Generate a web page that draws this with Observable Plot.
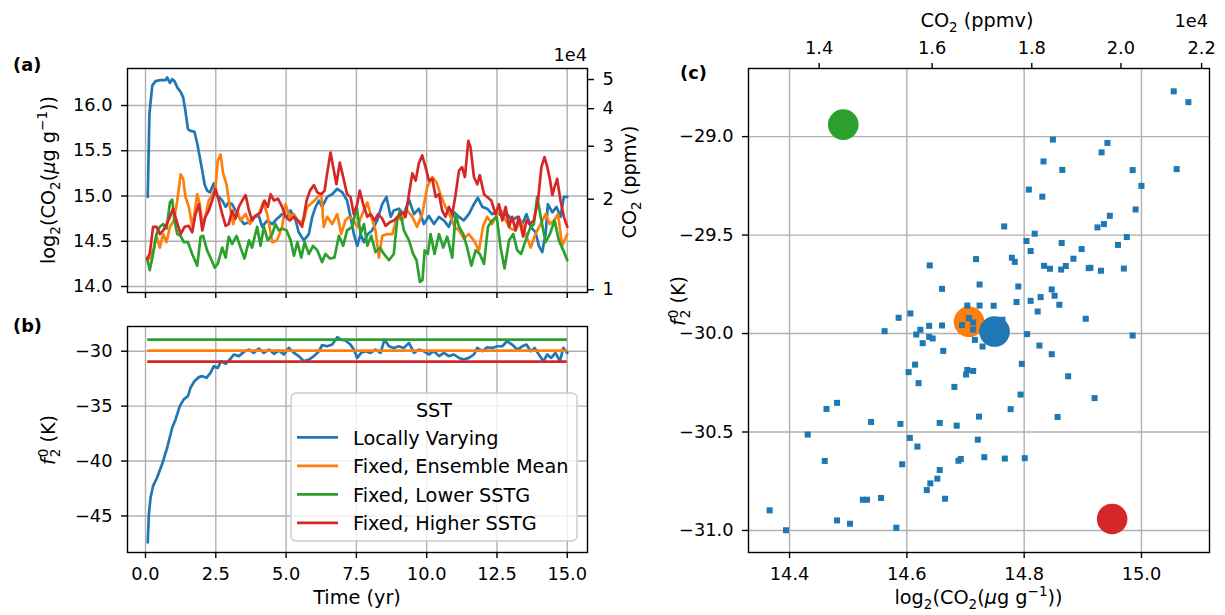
<!DOCTYPE html>
<html><head><meta charset="utf-8">
<script src="https://cdn.jsdelivr.net/npm/d3@7"></script>
<script src="https://cdn.jsdelivr.net/npm/@observablehq/plot@0.6"></script>
<style>
body{margin:0;background:#fff;}
#fig{position:relative;width:1225px;height:615px;overflow:hidden;background:#fff;}
</style></head><body><div id="fig"></div>
<script>
// ---------------- DATA ----------------
const seriesNames = ["Locally Varying", "Fixed, Ensemble Mean", "Fixed, Lower SSTG", "Fixed, Higher SSTG"];
const seriesColors = ["#1f77b4", "#ff7f0e", "#2ca02c", "#d62728"];
const timeTicks = [0, 2.5, 5, 7.5, 10, 12.5, 15];
const co2LogTicks = [14.0, 14.5, 15.0, 15.5, 16.0];
const ppmvTicksA = [1, 2, 3, 4, 5];            // x1e4 ppmv
const f2TicksB = [-45, -40, -35, -30];
const co2LogTicksC = [14.4, 14.6, 14.8, 15.0];
const ppmvTicksC = [1.4, 1.6, 1.8, 2.0, 2.2];  // x1e4 ppmv
const f2TicksC = [-31.0, -30.5, -30.0, -29.5, -29.0];
const log2Of1e4ppmv = 13.965;                  // log2(CO2 ug/g) equal to 1e4 ppmv

// panel (a): [time (yr), log2(CO2 ug/g)]
const co2LocallyVarying = [[0.08,14.99],[0.14,15.91],[0.24,16.22],[0.36,16.27],[0.53,16.28],[0.71,16.28],[0.77,16.31],[0.87,16.25],[0.95,16.29],[1.03,16.27],[1.13,16.20],[1.25,16.15],[1.34,16.09],[1.42,15.94],[1.51,15.74],[1.60,15.72],[1.74,15.71],[1.84,15.58],[1.93,15.43],[2.02,15.28],[2.10,15.13],[2.19,15.06],[2.29,15.04],[2.37,15.10],[2.43,15.14],[2.53,15.01],[2.61,14.99],[2.73,14.95],[2.85,14.88],[2.96,14.93],[3.08,14.91],[3.20,14.84],[3.32,14.77],[3.50,14.69],[3.68,14.71],[3.85,14.77],[4.03,14.78],[4.15,14.66],[4.33,14.73],[4.51,14.69],[4.68,14.75],[4.86,14.80],[5.04,14.77],[5.16,14.84],[5.34,14.73],[5.45,14.60],[5.63,14.51],[5.81,14.58],[5.93,14.77],[6.05,14.88],[6.17,14.95],[6.28,14.88],[6.46,14.99],[6.64,15.02],[6.82,15.08],[7.00,15.04],[7.17,14.95],[7.29,14.77],[7.41,14.58],[7.53,14.45],[7.65,14.58],[7.77,14.49],[7.91,14.58],[8.06,14.62],[8.24,14.73],[8.42,14.91],[8.57,14.99],[8.72,14.77],[8.83,14.84],[9.01,14.86],[9.19,14.80],[9.37,14.96],[9.55,14.80],[9.72,14.86],[9.90,14.69],[10.08,14.78],[10.26,14.69],[10.44,14.77],[10.61,14.73],[10.79,14.66],[10.97,14.82],[11.15,14.77],[11.32,14.73],[11.50,14.80],[11.68,14.91],[11.82,14.98],[11.98,14.88],[12.15,14.86],[12.33,14.80],[12.51,14.82],[12.69,14.77],[12.86,14.80],[13.04,14.73],[13.22,14.77],[13.40,14.69],[13.55,14.80],[13.70,14.66],[13.87,14.60],[13.99,14.45],[14.11,14.38],[14.23,14.58],[14.31,14.91],[14.47,14.82],[14.62,14.88],[14.76,14.77],[14.88,14.99],[15.0,14.99]];
const co2EnsembleMean = [[0.06,14.29],[0.18,14.32],[0.30,14.43],[0.39,14.56],[0.51,14.43],[0.63,14.58],[0.75,14.49],[0.87,14.66],[1.01,14.73],[1.13,14.95],[1.25,15.24],[1.34,15.19],[1.42,14.99],[1.54,14.88],[1.66,14.67],[1.74,14.80],[1.84,15.02],[1.93,14.91],[2.02,14.69],[2.13,14.77],[2.25,14.95],[2.37,15.01],[2.49,15.10],[2.57,15.39],[2.67,15.46],[2.76,15.25],[2.88,15.13],[3.00,14.88],[3.12,14.69],[3.26,14.84],[3.38,14.73],[3.56,14.80],[3.71,14.69],[3.88,14.77],[4.03,14.80],[4.19,14.93],[4.33,14.80],[4.51,14.49],[4.68,14.51],[4.86,14.66],[4.98,14.91],[5.13,14.77],[5.28,14.80],[5.45,14.71],[5.63,14.73],[5.75,14.88],[5.87,14.91],[6.01,14.95],[6.13,14.99],[6.25,15.02],[6.34,14.66],[6.46,14.77],[6.64,14.69],[6.82,14.80],[6.96,14.58],[7.11,14.73],[7.23,14.77],[7.35,14.75],[7.53,14.66],[7.71,14.80],[7.89,14.93],[8.03,14.77],[8.18,14.62],[8.30,14.32],[8.42,14.56],[8.60,14.58],[8.78,14.58],[8.95,14.77],[9.13,14.73],[9.31,14.84],[9.49,14.77],[9.66,14.66],[9.84,14.80],[10.02,15.10],[10.20,15.21],[10.35,15.15],[10.49,15.02],[10.67,14.88],[10.85,14.77],[10.99,14.66],[11.15,14.62],[11.32,14.53],[11.50,14.58],[11.68,14.51],[11.86,14.40],[12.01,14.67],[12.15,14.77],[12.33,14.69],[12.51,14.80],[12.65,14.84],[12.81,14.73],[12.98,14.64],[13.16,14.62],[13.34,14.73],[13.52,14.58],[13.70,14.43],[13.87,14.58],[14.05,14.69],[14.23,14.80],[14.38,14.69],[14.53,14.73],[14.67,14.80],[14.82,14.45],[15.0,14.58]];
const co2LowerSSTG = [[0.06,14.31],[0.15,14.18],[0.27,14.36],[0.39,14.58],[0.51,14.66],[0.63,14.69],[0.75,14.64],[0.87,14.93],[0.95,14.96],[1.03,14.73],[1.13,14.58],[1.25,14.56],[1.36,14.49],[1.51,14.49],[1.66,14.36],[1.84,14.23],[1.96,14.55],[2.05,14.56],[2.19,14.40],[2.31,14.32],[2.46,14.21],[2.57,14.25],[2.73,14.43],[2.85,14.32],[2.96,14.55],[3.08,14.47],[3.24,14.56],[3.38,14.43],[3.52,14.31],[3.68,14.51],[3.79,14.43],[3.97,14.66],[4.09,14.45],[4.21,14.66],[4.35,14.51],[4.51,14.58],[4.62,14.69],[4.74,14.62],[4.86,14.64],[5.02,14.62],[5.16,14.51],[5.28,14.34],[5.40,14.49],[5.54,14.32],[5.66,14.49],[5.81,14.36],[5.96,14.45],[6.11,14.40],[6.28,14.27],[6.40,14.36],[6.56,14.31],[6.72,14.32],[6.88,14.56],[7.03,14.45],[7.17,14.62],[7.35,14.66],[7.51,14.88],[7.65,14.58],[7.77,14.69],[7.89,14.45],[8.03,14.56],[8.18,14.38],[8.34,14.43],[8.48,14.36],[8.66,14.29],[8.83,14.36],[8.95,14.73],[9.05,14.84],[9.19,14.62],[9.37,14.51],[9.52,14.36],[9.64,14.29],[9.76,14.05],[9.85,14.07],[9.93,14.40],[10.04,14.36],[10.14,14.58],[10.28,14.36],[10.44,14.58],[10.59,14.43],[10.73,14.55],[10.91,14.32],[11.03,14.80],[11.15,14.66],[11.30,14.58],[11.44,14.43],[11.59,14.23],[11.74,14.40],[11.89,14.36],[12.04,14.25],[12.18,14.66],[12.33,14.73],[12.49,14.77],[12.63,14.43],[12.77,14.20],[12.93,14.51],[13.08,14.58],[13.22,14.40],[13.36,14.36],[13.52,14.51],[13.67,14.64],[13.81,14.69],[13.93,14.99],[14.08,14.73],[14.23,14.49],[14.38,14.58],[14.55,14.73],[14.70,14.51],[14.86,14.40],[15.0,14.29]];
const co2HigherSSTG = [[0.06,14.31],[0.15,14.36],[0.27,14.66],[0.39,14.66],[0.51,14.58],[0.63,14.62],[0.75,14.69],[0.87,14.77],[0.98,14.86],[1.10,14.73],[1.25,14.58],[1.39,14.66],[1.54,14.67],[1.66,14.60],[1.78,14.80],[1.90,14.91],[2.02,14.62],[2.13,14.77],[2.25,14.84],[2.37,14.95],[2.49,15.08],[2.61,14.95],[2.73,14.80],[2.85,14.67],[2.96,14.69],[3.08,14.84],[3.20,14.75],[3.32,14.88],[3.44,14.95],[3.56,15.01],[3.68,14.84],[3.79,14.73],[3.91,14.78],[4.09,14.82],[4.23,14.95],[4.35,14.88],[4.45,15.02],[4.57,14.95],[4.71,14.97],[4.86,14.88],[4.98,14.77],[5.13,14.73],[5.28,14.77],[5.42,14.73],[5.57,14.66],[5.73,14.95],[5.85,15.06],[5.99,15.12],[6.11,15.04],[6.25,15.02],[6.37,15.06],[6.46,15.25],[6.58,15.48],[6.70,15.28],[6.79,15.13],[6.91,15.37],[7.06,15.17],[7.17,15.02],[7.29,14.99],[7.41,14.80],[7.53,14.91],[7.62,15.06],[7.74,14.91],[7.89,14.77],[8.00,14.80],[8.15,14.73],[8.27,14.80],[8.42,14.75],[8.54,14.67],[8.69,14.71],[8.83,14.73],[8.98,14.77],[9.13,14.82],[9.25,14.77],[9.37,15.02],[9.49,15.25],[9.61,15.17],[9.72,15.36],[9.84,15.45],[9.96,15.32],[10.08,15.17],[10.20,15.19],[10.32,14.99],[10.44,15.02],[10.55,14.84],[10.67,14.77],[10.79,14.88],[10.91,14.80],[11.03,15.02],[11.15,15.28],[11.26,15.32],[11.36,15.21],[11.48,15.61],[11.56,15.54],[11.68,15.21],[11.80,15.13],[11.89,15.23],[12.04,15.02],[12.15,14.99],[12.30,14.95],[12.45,14.80],[12.57,14.91],[12.69,14.73],[12.81,14.88],[12.93,14.66],[13.04,14.77],[13.16,14.62],[13.28,14.77],[13.43,14.55],[13.55,14.73],[13.67,14.69],[13.81,14.73],[13.96,14.95],[14.08,15.32],[14.19,15.43],[14.29,15.32],[14.38,15.19],[14.47,15.01],[14.55,15.10],[14.64,15.19],[14.76,14.95],[14.88,14.77],[15.0,14.66]];

// panel (b): [time (yr), f2^0 (K)]
const f2LocallyVarying = [[0.08,-47.42],[0.12,-44.85],[0.18,-43.33],[0.27,-42.27],[0.41,-41.52],[0.59,-40.30],[0.77,-38.79],[0.95,-36.97],[1.07,-36.21],[1.22,-35.0],[1.36,-34.39],[1.51,-34.09],[1.60,-33.33],[1.74,-32.73],[1.90,-32.36],[2.02,-32.27],[2.17,-32.42],[2.31,-31.97],[2.43,-31.36],[2.57,-31.52],[2.69,-30.91],[2.85,-31.15],[3.00,-30.76],[3.14,-30.30],[3.32,-30.45],[3.50,-30.06],[3.68,-29.85],[3.85,-30.15],[4.03,-29.76],[4.21,-30.15],[4.39,-29.85],[4.57,-30.24],[4.74,-29.94],[4.92,-30.30],[5.10,-29.70],[5.28,-30.15],[5.45,-30.45],[5.63,-30.91],[5.81,-30.76],[5.99,-30.45],[6.17,-30.0],[6.28,-29.45],[6.46,-29.55],[6.64,-29.39],[6.82,-28.73],[6.96,-28.94],[7.11,-29.03],[7.29,-29.39],[7.41,-29.85],[7.53,-30.61],[7.67,-30.15],[7.83,-30.0],[8.0,-30.15],[8.18,-29.85],[8.36,-30.15],[8.50,-28.94],[8.66,-29.55],[8.83,-29.70],[9.01,-29.55],[9.19,-29.70],[9.37,-29.24],[9.55,-30.15],[9.72,-29.85],[9.90,-30.0],[10.08,-30.30],[10.26,-30.0],[10.44,-30.45],[10.61,-30.15],[10.79,-30.45],[10.97,-30.30],[11.15,-30.61],[11.32,-30.76],[11.50,-30.61],[11.68,-30.30],[11.80,-29.70],[11.98,-30.0],[12.15,-29.64],[12.33,-29.70],[12.51,-29.55],[12.69,-29.55],[12.86,-29.09],[13.04,-29.39],[13.22,-29.85],[13.40,-29.55],[13.55,-29.39],[13.70,-30.0],[13.84,-29.70],[13.99,-30.30],[14.15,-30.91],[14.29,-30.30],[14.43,-30.61],[14.58,-30.15],[14.74,-30.91],[14.86,-29.70],[15.0,-30.15]];
const f2Fixed = [-29.94, -28.94, -30.945]; // ensemble mean, lower SSTG, higher SSTG

// panel (c): scatter for the locally varying run
const scatterCO2 = [14.849,14.833,14.865,14.808,14.831,14.766,14.818,14.804,14.864,14.811,14.898,14.639,14.718,14.779,14.784,14.884,14.834,14.844,14.863,14.871,14.910,14.660,14.724,14.790,14.847,14.852,14.787,14.811,14.828,14.860,14.703,14.724,14.748,14.823,14.905,14.586,14.606,14.562,14.623,14.616,14.638,14.660,14.638,14.644,14.627,14.694,14.706,14.713,14.713,14.716,14.729,14.763,14.662,14.805,14.826,14.847,14.796,14.875,14.614,14.603,14.620,14.703,14.713,14.701,14.681,14.794,14.777,14.723,14.857,14.481,14.463,14.539,14.589,14.656,14.685,14.431,14.605,14.618,14.721,14.460,14.592,14.688,14.692,14.732,14.767,14.801,14.656,14.652,14.640,14.634,14.665,14.525,14.532,14.556,14.366,14.394,14.481,14.503,14.582,14.942,14.932,14.946,14.936,14.925,14.913,14.931,14.920,15.055,15.080,15.060,14.985,15.000,14.990,14.975,14.970,14.985,14.960];
const scatterF2 = [-29.015,-29.126,-29.169,-29.269,-29.305,-29.456,-29.493,-29.530,-29.540,-29.581,-29.571,-29.654,-29.622,-29.615,-29.636,-29.620,-29.656,-29.671,-29.675,-29.657,-29.668,-29.773,-29.751,-29.761,-29.776,-29.808,-29.840,-29.834,-29.815,-29.854,-29.858,-29.858,-29.859,-29.888,-29.925,-29.920,-29.898,-29.988,-29.981,-30.005,-29.961,-29.959,-30.017,-30.025,-30.049,-29.957,-29.922,-29.944,-29.980,-30.032,-30.066,-29.930,-30.088,-30.003,-30.061,-30.105,-30.154,-30.217,-30.158,-30.196,-30.252,-30.185,-30.190,-30.208,-30.271,-30.310,-30.384,-30.422,-30.424,-30.352,-30.383,-30.449,-30.459,-30.454,-30.468,-30.513,-30.530,-30.574,-30.539,-30.647,-30.664,-30.646,-30.637,-30.628,-30.635,-30.633,-30.693,-30.737,-30.761,-30.795,-30.839,-30.844,-30.844,-30.835,-30.898,-30.999,-30.949,-30.966,-30.986,-29.032,-29.080,-29.402,-29.444,-29.461,-29.666,-29.681,-30.328,-28.770,-28.825,-29.165,-29.170,-29.250,-29.370,-29.510,-29.670,-30.010,-29.550];
// means per SST setting (order as seriesNames)
const meanCO2 = [14.7495, 14.706, 14.4916, 14.950];
const meanF2 = [-29.990, -29.9405, -28.939, -30.942];

// ---------------- DRAWING ----------------
const fig = document.getElementById("fig");
const FONT = "DejaVu Sans";
const TICK_FS = 17.8, LABEL_FS = 19.3;
const gridOpt = {stroke: "#b0b0b0", strokeOpacity: 1, strokeWidth: 1.4};
const axisOpt = {tickSize: 6, tickPadding: 9, strokeWidth: 1.4, label: null, fontSize: TICK_FS};
const baseStyle = {fontFamily: FONT, fontSize: TICK_FS + "px", color: "black", background: "transparent", overflow: "visible"};
const lineW = 2.7;
function place(el, left, top) {
  el.style.position = "absolute"; el.style.left = left + "px"; el.style.top = top + "px";
  fig.appendChild(el);
}
const toPpmv = d => 2 ** (d - log2Of1e4ppmv);
const fromPpmv = v => log2Of1e4ppmv + Math.log2(v);

// panel (a)
const seriesA = [co2LocallyVarying, co2EnsembleMean, co2LowerSSTG, co2HigherSSTG];
const pa = Plot.plot({
  width: 650, height: 305, marginLeft: 127, marginRight: 63, marginTop: 68, marginBottom: 13,
  style: baseStyle,
  x: {domain: [-0.64, 15.72]},
  y: {domain: [13.934, 16.409]},
  marks: [
    Plot.gridX(timeTicks, gridOpt),
    Plot.gridY(co2LogTicks, gridOpt),
    ...seriesA.map((s, i) => Plot.line(s, {x: d => d[0], y: d => d[1], stroke: seriesColors[i], strokeWidth: lineW, strokeLinejoin: "round"})),
    Plot.axisX({...axisOpt, ticks: timeTicks, tickFormat: () => ""}),
    Plot.axisY({...axisOpt, ticks: co2LogTicks, tickFormat: d3.format(".1f")}),
    Plot.axisY({...axisOpt, anchor: "right", ticks: ppmvTicksA.map(fromPpmv), tickFormat: d => String(Math.round(toPpmv(d)))}),
    Plot.frame({stroke: "black", strokeWidth: 1.4})
  ]
});
place(pa, 0, 0);

// panel (b)
const t0 = f2LocallyVarying[0][0], t1 = f2LocallyVarying[f2LocallyVarying.length - 1][0];
const pb = Plot.plot({
  width: 650, height: 305, marginLeft: 127, marginRight: 63, marginTop: 16, marginBottom: 63,
  style: baseStyle,
  x: {domain: [-0.64, 15.72]},
  y: {domain: [-48.33, -27.75]},
  marks: [
    Plot.gridX(timeTicks, gridOpt),
    Plot.gridY(f2TicksB, gridOpt),
    Plot.line(f2LocallyVarying, {x: d => d[0], y: d => d[1], stroke: seriesColors[0], strokeWidth: lineW, strokeLinejoin: "round"}),
    ...f2Fixed.map((v, i) => Plot.ruleY([v], {x1: t0, x2: t1, stroke: seriesColors[i + 1], strokeWidth: lineW})),
    Plot.axisX({...axisOpt, ticks: timeTicks, tickFormat: d3.format(".1f")}),
    Plot.axisY({...axisOpt, ticks: f2TicksB, tickFormat: d3.format("d")}),
    Plot.frame({stroke: "black", strokeWidth: 1.4})
  ]
});
place(pb, 0, 310);

// panel (c)
const scatter = scatterCO2.map((x, i) => ({x, y: scatterF2[i]}));
const meanOrder = [2, 3, 1, 0];
const means = meanOrder.map(i => ({x: meanCO2[i], y: meanF2[i], c: seriesColors[i]}));
const pc = Plot.plot({
  width: 585, height: 615, marginLeft: 108, marginRight: 16, marginTop: 68, marginBottom: 63,
  style: baseStyle,
  x: {domain: [14.330, 15.116]},
  y: {domain: [-31.112, -28.654]},
  marks: [
    Plot.gridX(co2LogTicksC, gridOpt),
    Plot.gridY(f2TicksC, gridOpt),
    Plot.dot(means, {x: "x", y: "y", r: 15.3, fill: "c", stroke: "none"}),
    Plot.dot(scatter, {x: "x", y: "y", symbol: "square", r: 3.4, fill: seriesColors[0], stroke: "none"}),
    Plot.axisX({...axisOpt, ticks: co2LogTicksC, tickFormat: d3.format(".1f")}),
    Plot.axisX({...axisOpt, anchor: "top", ticks: ppmvTicksC.map(fromPpmv), tickFormat: d => d3.format(".1f")(toPpmv(d))}),
    Plot.axisY({...axisOpt, ticks: f2TicksC, tickFormat: d3.format(".1f")}),
    Plot.frame({stroke: "black", strokeWidth: 1.4})
  ]
});
place(pc, 640, 0);

// ---------------- TEXT OVERLAY ----------------
const ov = d3.create("svg").attr("width", 1225).attr("height", 615)
  .style("position", "absolute").style("left", "0px").style("top", "0px")
  .style("font-family", FONT).style("pointer-events", "none");

function rich(x, y, parts, {rotate = 0, anchor = "middle", size = LABEL_FS, weight = "normal"} = {}) {
  const t = ov.append("text").attr("transform", `translate(${x},${y}) rotate(${rotate})`)
    .attr("text-anchor", anchor).attr("font-size", size).attr("font-weight", weight).attr("fill", "black");
  for (const p of parts) {
    const s = t.append("tspan").text(p.t);
    if (p.size) s.attr("font-size", p.size);
    if (p.dy) s.attr("dy", p.dy);
    if (p.dx) s.attr("dx", p.dx);
    if (p.italic) s.attr("font-style", "italic");
  }
  return t;
}
const SUB = 13.5;
const log2Label = [
  {t: "log"}, {t: "2", size: SUB, dy: 4.5}, {t: "(CO", dy: -4.5}, {t: "2", size: SUB, dy: 4.5},
  {t: "(", dy: -4.5}, {t: "μ", italic: true}, {t: "g g"}, {t: "−1", size: SUB, dy: -8}, {t: "))", dy: 8}
];
const f2Label = [
  {t: "f", italic: true}, {t: "2", size: SUB, dy: 4.5, dx: 1}, {t: "0", size: SUB, dx: -8.6, dy: -12}, {t: " (K)", dy: 7.5}
];
const ppmvLabel = [{t: "CO"}, {t: "2", size: SUB, dy: 4.5}, {t: " (ppmv)", dy: -4.5}];

// panel letters
rich(13, 71, [{t: "(a)"}], {anchor: "start", size: TICK_FS, weight: "bold"});
rich(13, 332, [{t: "(b)"}], {anchor: "start", size: TICK_FS, weight: "bold"});
rich(680, 79, [{t: "(c)"}], {anchor: "start", size: TICK_FS, weight: "bold"});
// panel (a)
rich(55, 180, log2Label, {rotate: -90});
rich(636, 182, ppmvLabel, {rotate: -90});
rich(587, 61, [{t: "1e4"}], {anchor: "end", size: TICK_FS});
// panel (b)
rich(55, 440, f2Label, {rotate: -90});
rich(357, 604, [{t: "Time (yr)"}]);
// panel (c)
rich(685, 301, f2Label, {rotate: -90});
rich(978.5, 604, log2Label);
rich(977, 27, ppmvLabel);
rich(1208, 27, [{t: "1e4"}], {anchor: "end", size: TICK_FS});

// legend in panel (b)
const lg = ov.append("g");
lg.append("rect").attr("x", 291).attr("y", 393).attr("width", 286).attr("height", 148).attr("rx", 5)
  .attr("fill", "white").attr("fill-opacity", 0.8).attr("stroke", "#cccccc").attr("stroke-width", 1.4);
rich(434, 416.5, [{t: "SST"}]);
seriesNames.forEach((name, i) => {
  const yc = 437.3 + i * 28.5;
  lg.append("line").attr("x1", 297).attr("x2", 338).attr("y1", yc).attr("y2", yc)
    .attr("stroke", seriesColors[i]).attr("stroke-width", lineW);
  rich(353, yc + 7.3, [{t: name}], {anchor: "start"});
});
fig.appendChild(ov.node());
</script></body></html>
